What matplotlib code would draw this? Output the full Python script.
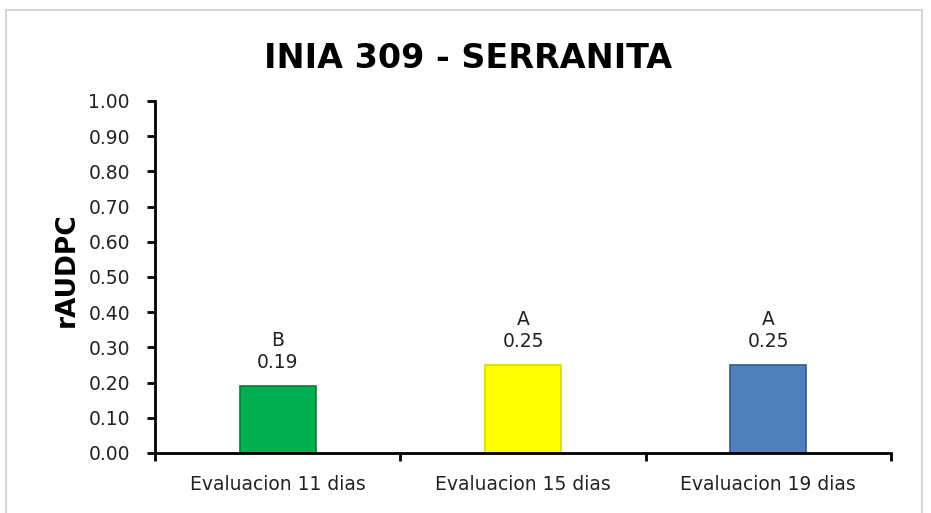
import numpy as np
import matplotlib
matplotlib.use('Agg')
import matplotlib.pyplot as plt
from matplotlib.patches import Rectangle

# data
categories = ['Evaluacion 11 dias', 'Evaluacion 15 dias', 'Evaluacion 19 dias']
values = [0.19, 0.25, 0.25]
groups = ['B', 'A', 'A']
bar_colors = ['#00B050', '#FFFF00', '#4F81BD']
edge_colors = ['#0E7A3A', '#D8D800', '#2E5A8E']

plt.rcParams['font.family'] = ['DejaVu Sans']

fig = plt.figure(figsize=(9.31, 5.13), dpi=100, facecolor='white')
# outer chart frame
fig.patches.append(Rectangle((6/931, -0.1), 916/931, 1.1 - 10/513,
                             transform=fig.transFigure, fill=False,
                             edgecolor='#D0D0D0', lw=1.2))

ax = fig.add_axes([155/931, 1 - 453/513, 736/931, 352/513])
x = np.arange(len(categories))
ax.bar(x, values, width=0.31, color=bar_colors, edgecolor=edge_colors, lw=1.2, zorder=2)

for xi, v, g in zip(x, values, groups):
    ax.annotate('{}\n{:.2f}'.format(g, v), (xi, v), xytext=(0, 10),
                textcoords='offset points', ha='center', va='bottom',
                fontsize=13.5, color='#222222', linespacing=1.2)

ax.set_xlim(-0.5, len(categories) - 0.5)
ax.set_ylim(0, 1.0)
ax.set_yticks(np.arange(0, 1.01, 0.1))
ax.set_yticklabels(['{:.2f}'.format(t) for t in np.arange(0, 1.01, 0.1)])
ax.set_xticks(x)
ax.set_xticklabels(categories)
ax.set_xticks(np.arange(-0.5, len(categories), 1.0), minor=True)
ax.tick_params(axis='x', which='major', length=0, pad=16, labelsize=13.5, labelcolor='#222222')
ax.tick_params(axis='x', which='minor', length=6, width=2, direction='out')
ax.tick_params(axis='y', length=6, width=2, direction='out', pad=12, labelsize=13.5, labelcolor='#222222')

for side in ['top', 'right']:
    ax.spines[side].set_visible(False)
ax.spines['left'].set_linewidth(2)
ax.spines['bottom'].set_linewidth(2)

ax.set_ylabel('rAUDPC', fontsize=19, fontweight='bold')
ax.yaxis.set_label_coords(-0.102, 0.52)
fig.text(468/931, 1 - 58/513, 'INIA 309 - SERRANITA', ha='center', va='center',
         fontsize=24, fontweight='bold')

fig.savefig('out.png', dpi=100, facecolor='white')
